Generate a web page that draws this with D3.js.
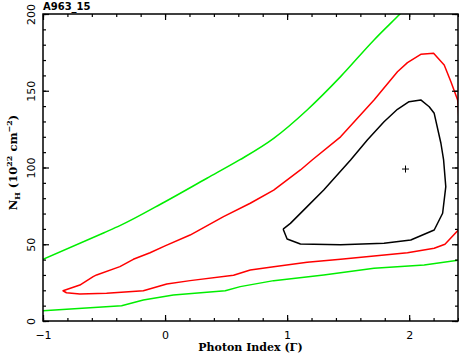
<!DOCTYPE html>
<html>
<head>
<meta charset="utf-8">
<script src="https://cdn.jsdelivr.net/npm/d3@7"></script>
<style>
  body { margin: 0; background: #fff; }
  svg { display: block; }
</style>
</head>
<body>
<div id="chart"></div>
<script>
// contour data: [photon index, N_H]
var greenUpper = [[-1.05, 38.5], [-1, 40.2], [-0.5, 57.5], [-0.37, 62.1], [0, 77.7], [0.343, 93.0],
    [0.61, 104.9], [0.89, 119.0], [1.164, 137.5], [1.438, 159.2], [1.712, 183.1], [1.925, 200], [2.0, 206]];
var greenLower = [[-1.05, 6.5], [-1, 6.7], [-0.356, 10], [-0.178, 13.7], [0.068, 16.9], [0.493, 19.7],
    [0.616, 22.4], [0.89, 26.3], [1.30, 30], [1.712, 34.3], [2.123, 36.5], [2.408, 39.7], [2.45, 40.5]];
var redContour = [[2.45, 66], [2.408, 59.7], [2.293, 50], [2.205, 47.4], [1.986, 44.5], [1.712, 42.3],
    [1.438, 40.2], [1.164, 38.2], [0.89, 35.4], [0.698, 33.2], [0.561, 29.8], [0.205, 26.3],
    [0.014, 24.1], [-0.178, 19.7], [-0.479, 18.0], [-0.698, 17.6], [-0.808, 18.4], [-0.836, 19.7],
    [-0.698, 23.4], [-0.589, 28.9], [-0.561, 30], [-0.37, 35.4], [-0.26, 40.2], [-0.123, 44.5],
    [0.0, 48.9], [0.205, 56], [0.479, 68], [0.698, 76.7], [0.89, 85.3], [1.109, 98.4], [1.205, 104.9],
    [1.438, 120], [1.712, 144], [1.904, 162.4], [1.986, 168.3], [2.095, 173.7], [2.2, 174.4],
    [2.287, 166.8], [2.342, 155.9], [2.397, 144], [2.408, 131], [2.45, 122]];
var blackContour = [[0.967, 59.9], [1.0, 53.4], [1.109, 50.2], [1.438, 49.7], [1.794, 50.6], [2.013, 52.8],
    [2.205, 59.3], [2.274, 70.2], [2.30, 87.5], [2.282, 104.9], [2.26, 115.8], [2.205, 135.3],
    [2.164, 139.6], [2.095, 144], [1.999, 142.9], [1.904, 137.9], [1.794, 129.8], [1.657, 117.9],
    [1.52, 104.9], [1.30, 85.3], [1.164, 74.5], [1.027, 63.6], [0.967, 59.9]];
var bestFit = [1.97, 99];

var xMajor = [-1, 0, 1, 2];
var xMinor = d3.range(-1, 2.41, 0.2);
var yMajor = [0, 50, 100, 150, 200];
var yMinor = d3.range(0, 201, 10);

var margin = { top: 14, right: 1, bottom: 33, left: 43 },
    width = 459 - margin.left - margin.right,
    height = 354 - margin.top - margin.bottom;

var svgRoot = d3.select("#chart").append("svg")
    .attr("width", width + margin.left + margin.right)
    .attr("height", height + margin.top + margin.bottom);
var svg = svgRoot.append("g")
    .attr("transform", "translate(" + margin.left + "," + margin.top + ")");

var x = d3.scaleLinear().domain([-1, 2.4]).range([0, width]);
var y = d3.scaleLinear().domain([0, 200]).range([height, 0]);

svg.append("clipPath").attr("id", "clip")
    .append("rect").attr("width", width).attr("height", height);

var line = d3.line()
    .x(function (d) { return x(d[0]); })
    .y(function (d) { return y(d[1]); });
var smooth = d3.line()
    .curve(d3.curveMonotoneX)
    .x(function (d) { return x(d[0]); })
    .y(function (d) { return y(d[1]); });

var plot = svg.append("g").attr("clip-path", "url(#clip)");
var contours = [
    { data: greenUpper, color: "#00ee00", gen: smooth },
    { data: greenLower, color: "#00ee00", gen: line },
    { data: redContour, color: "#ff0000", gen: line },
    { data: blackContour, color: "#000000", gen: line }
];
contours.forEach(function (c) {
    plot.append("path")
        .attr("d", c.gen(c.data))
        .attr("fill", "none")
        .attr("stroke", c.color)
        .attr("stroke-width", 1.5)
        .attr("stroke-linejoin", "round");
});

// best fit cross
var bx = x(bestFit[0]), by = y(bestFit[1]);
plot.append("path")
    .attr("d", "M" + (bx - 3.5) + "," + by + "H" + (bx + 3.5) + "M" + bx + "," + (by - 3.5) + "V" + (by + 3.5))
    .attr("stroke", "#000").attr("stroke-width", 1);

// axes, ticks pointing in on all four sides
function styleAxis(g) {
    g.select(".domain").remove();
    g.selectAll("line").attr("stroke", "#000").attr("stroke-width", 1.2);
}
svg.append("g").attr("transform", "translate(0," + height + ")")
    .call(d3.axisBottom(x).tickValues(xMinor).tickSize(-3).tickFormat("")).call(styleAxis);
svg.append("g").attr("transform", "translate(0," + height + ")")
    .call(d3.axisBottom(x).tickValues(xMajor).tickSize(-6).tickPadding(10)
        .tickFormat(function (d) { return d < 0 ? "\u2212" + (-d) : d; }))
    .call(styleAxis)
    .selectAll("text").style("font-family", "DejaVu Sans").style("font-size", "11px").attr("fill", "#000");
svg.append("g")
    .call(d3.axisTop(x).tickValues(xMinor).tickSize(-3).tickFormat("")).call(styleAxis);
svg.append("g")
    .call(d3.axisTop(x).tickValues(xMajor).tickSize(-6).tickFormat("")).call(styleAxis);

svg.append("g")
    .call(d3.axisLeft(y).tickValues(yMinor).tickSize(-3).tickFormat("")).call(styleAxis);
svg.append("g")
    .call(d3.axisLeft(y).tickValues(yMajor).tickSize(-6))
    .call(styleAxis)
    .selectAll("text")
    .attr("x", 0).attr("y", -8).attr("dy", 0)
    .attr("transform", "rotate(-90)")
    .style("text-anchor", "middle")
    .style("font-family", "DejaVu Sans").style("font-size", "11px").attr("fill", "#000");
svg.append("g").attr("transform", "translate(" + width + ",0)")
    .call(d3.axisRight(y).tickValues(yMinor).tickSize(-3).tickFormat("")).call(styleAxis);
svg.append("g").attr("transform", "translate(" + width + ",0)")
    .call(d3.axisRight(y).tickValues(yMajor).tickSize(-6).tickFormat("")).call(styleAxis);

svg.append("rect")
    .attr("width", width).attr("height", height)
    .attr("fill", "none").attr("stroke", "#000").attr("stroke-width", 1.5);

// labels
svg.append("text")
    .attr("x", 0).attr("y", -4)
    .style("font-family", "DejaVu Sans").style("font-size", "10px").style("font-weight", "bold")
    .text("A963_15");

svg.append("text")
    .attr("x", width / 2).attr("y", height + 30)
    .attr("text-anchor", "middle")
    .style("font-family", "DejaVu Serif").style("font-size", "11px").style("font-weight", "bold")
    .text("Photon Index (\u0393)");

var ylab = svg.append("text")
    .attr("transform", "translate(" + (-26) + "," + (height / 2 - 5) + ") rotate(-90)")
    .attr("text-anchor", "middle")
    .style("font-family", "DejaVu Serif").style("font-size", "11.5px").style("font-weight", "bold");
ylab.append("tspan").text("N");
ylab.append("tspan").attr("dy", 3).style("font-size", "8px").text("H");
ylab.append("tspan").attr("dy", -3).text(" (10");
ylab.append("tspan").attr("dy", -5).style("font-size", "8px").text("22");
ylab.append("tspan").attr("dy", 5).text(" cm");
ylab.append("tspan").attr("dy", -5).style("font-size", "8px").text("\u22122");
ylab.append("tspan").attr("dy", 5).text(")");
</script>
</body>
</html>
